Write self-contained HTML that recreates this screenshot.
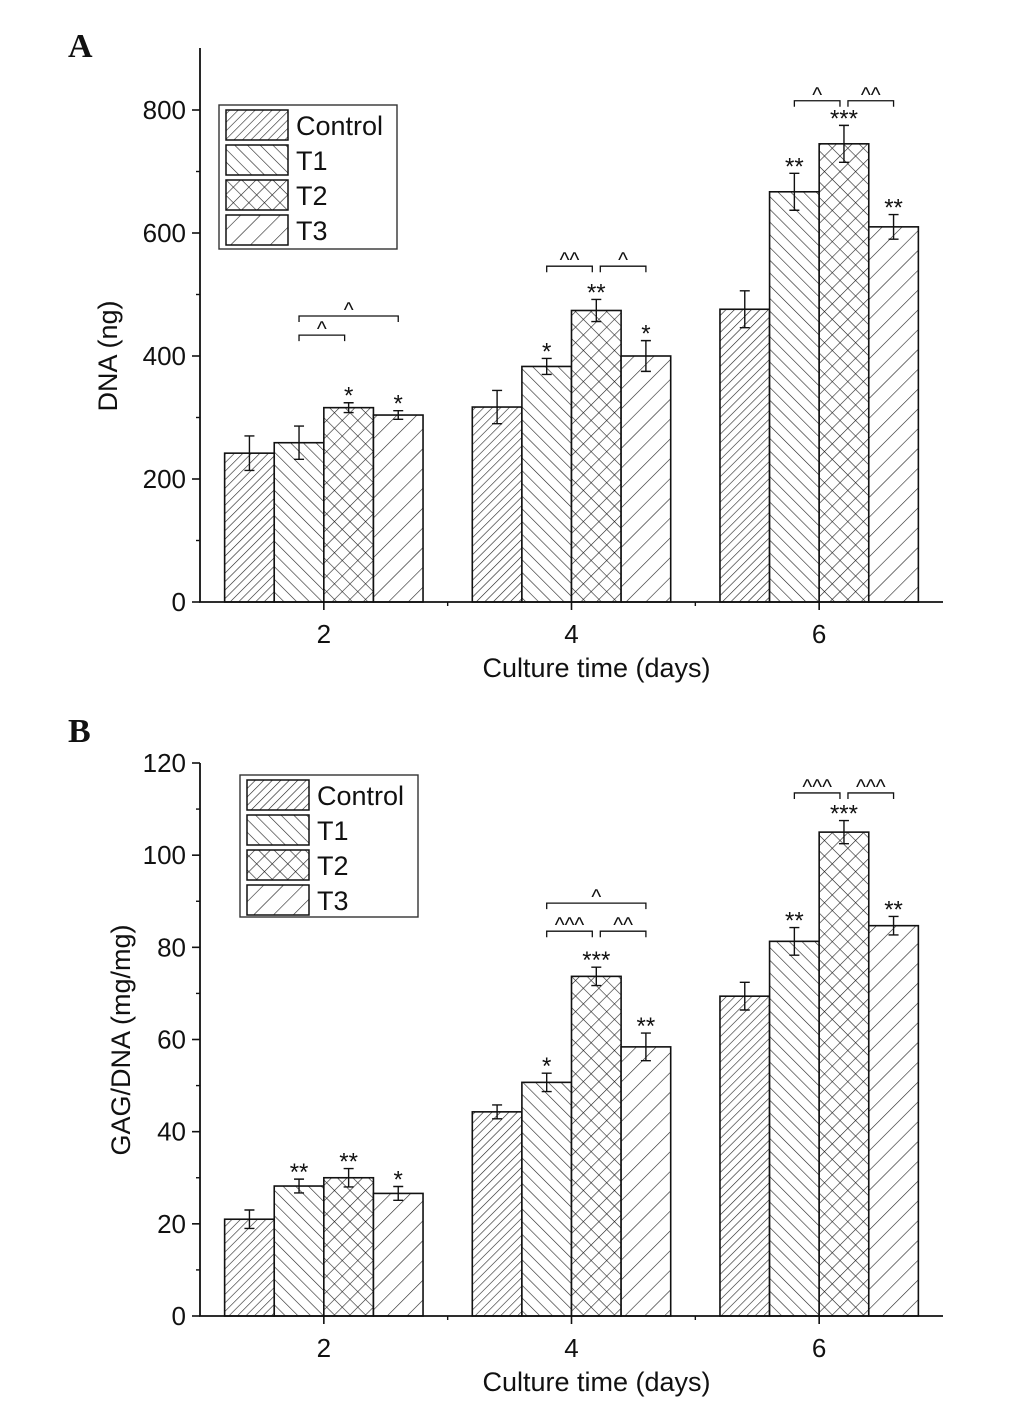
<!DOCTYPE html>
<html><head><meta charset="utf-8"><style>
body{margin:0;background:#fff}
svg text{font-family:"Liberation Sans",Arial,sans-serif;fill:#111}
</style></head><body>
<svg id="fig" width="1033" height="1397" viewBox="0 0 1033 1397" xmlns="http://www.w3.org/2000/svg">
<defs>
<pattern id="pC" patternUnits="userSpaceOnUse" width="6" height="6" patternTransform="rotate(45)"><rect width="6" height="6" fill="#fff"/><line x1="0" y1="0" x2="0" y2="6" stroke="#222" stroke-width="1.2"/></pattern>
<pattern id="p1" patternUnits="userSpaceOnUse" width="9" height="9" patternTransform="rotate(-45)"><rect width="9" height="9" fill="#fff"/><line x1="0" y1="0" x2="0" y2="9" stroke="#222" stroke-width="1.2"/></pattern>
<pattern id="p2" patternUnits="userSpaceOnUse" width="11" height="11" patternTransform="rotate(45)"><rect width="11" height="11" fill="#fff"/><line x1="0" y1="0" x2="0" y2="11" stroke="#222" stroke-width="1.2"/><line x1="0" y1="0" x2="11" y2="0" stroke="#222" stroke-width="1.2"/></pattern>
<pattern id="p3" patternUnits="userSpaceOnUse" width="14" height="14" patternTransform="rotate(45)"><rect width="14" height="14" fill="#fff"/><line x1="0" y1="0" x2="0" y2="14" stroke="#222" stroke-width="1.2"/></pattern>
</defs>
</svg>
<script>
const categories=["2","4","6"];
const seriesNames=["Control","T1","T2","T3"];
const patterns=["url(#pC)","url(#p1)","url(#p2)","url(#p3)"];
const dnaControl=[242,317,476], dnaT1=[259,383,667], dnaT2=[316,474,745], dnaT3=[304,400,610];
const dnaErrControl=[28,27,30], dnaErrT1=[27,13,30], dnaErrT2=[8,18,30], dnaErrT3=[7,25,20];
const dnaStars=[["","",""],["","*","**"],["*","**","***"],["*","*","**"]];
const dnaTicks=[0,200,400,600,800];
const dnaBrackets=[[0,1,2,434,"^"],[0,1,3,465,"^"],[1,1,2,546,"^^"],[1,2,3,546,"^"],[2,1,2,815,"^"],[2,2,3,815,"^^"]];
const gagControl=[21,44.3,69.4], gagT1=[28.2,50.7,81.3], gagT2=[30,73.7,105], gagT3=[26.6,58.4,84.7];
const gagErrControl=[2,1.5,3], gagErrT1=[1.5,2,3], gagErrT2=[2,2,2.5], gagErrT3=[1.5,3,2];
const gagStars=[["","",""],["**","*","**"],["**","***","***"],["*","**","**"]];
const gagTicks=[0,20,40,60,80,100,120];
const gagBrackets=[[1,1,2,83.5,"^^^"],[1,2,3,83.5,"^^"],[1,1,3,89.6,"^"],[2,1,2,113.5,"^^^"],[2,2,3,113.5,"^^^"]];

const svg=document.getElementById('fig');
const NS="http://www.w3.org/2000/svg";
function mk(tag,attrs,parent){const e=document.createElementNS(NS,tag);for(const k in attrs)e.setAttribute(k,attrs[k]);(parent||svg).appendChild(e);return e;}
function txt(s,attrs,parent){const e=mk('text',attrs,parent);e.textContent=s;return e;}

function panel(cfg){
  const g=mk('g',{});
  
  
  const x0=200,x1=943,bw=49.6;
  const xC=i=>x0+(i+0.5)*(x1-x0)/3;
  const y=v=>cfg.y0-(v-cfg.min)*(cfg.y0-cfg.yTop)/(cfg.max-cfg.min);
  const vals=[cfg.c,cfg.t1,cfg.t2,cfg.t3], errs=[cfg.ec,cfg.e1,cfg.e2,cfg.e3];
  for(let s=0;s<4;s++)for(let i=0;i<categories.length;i++){
    const bx=xC(i)+(s-2)*bw;
    const r=mk('rect',{x:bx,y:y(vals[s][i]),width:bw,height:cfg.y0-y(vals[s][i]),fill:patterns[s],stroke:'#111','stroke-width':1.6},g);
    
    
    const cx=bx+bw/2, yt=y(vals[s][i]+errs[s][i]), yb=y(vals[s][i]-errs[s][i]);
    const eb=mk('path',{d:`M${cx},${yt}V${yb}M${cx-5},${yt}H${cx+5}M${cx-5},${yb}H${cx+5}`,stroke:'#111','stroke-width':1.4,fill:'none'},g);
    
    
    if(cfg.stars[s][i]){
      const st=txt(cfg.stars[s][i],{x:cx,y:yt+1,'text-anchor':'middle','font-size':24},g);
      
      
    }
  }
  cfg.brackets.forEach(b=>{
    const xa=xC(b[0])+(b[1]-2)*bw+bw/2+(b[1]==2?4:0), xb=xC(b[0])+(b[2]-2)*bw+bw/2-(b[2]==2?4:0), yy=y(b[3]);
    const p=mk('path',{d:`M${xa},${yy+6}V${yy}H${xb}V${yy+6}`,stroke:'#111','stroke-width':1.3,fill:'none'},g);
    
    
    const t=txt(b[4],{x:(xa+xb)/2,y:yy+1,'text-anchor':'middle','font-size':21},g);
    
    
  });
  const ax=mk('path',{d:`M${x0},${cfg.axTop}V${cfg.y0}H${x1}`,stroke:'#111','stroke-width':1.8,fill:'none'},g);
  
  
  cfg.ticks.forEach((t,k)=>{
    mk('line',{x1:x0-8,x2:x0,y1:y(t),y2:y(t),stroke:'#111','stroke-width':1.6},g);
    if(k<cfg.ticks.length-1){const m=(t+cfg.ticks[k+1])/2;mk('line',{x1:x0-4,x2:x0,y1:y(m),y2:y(m),stroke:'#111','stroke-width':1.4},g);}
    const tl=txt(String(t),{x:x0-14,y:y(t)+9,'text-anchor':'end','font-size':26},g);
    
    
  });
  categories.forEach((c,i)=>{
    mk('line',{x1:xC(i),x2:xC(i),y1:cfg.y0,y2:cfg.y0+8,stroke:'#111','stroke-width':1.6},g);
    const tl=txt(c,{x:xC(i),y:cfg.y0+41,'text-anchor':'middle','font-size':26},g);
    
    
  });
  [1,2].forEach(i=>mk('line',{x1:x0+i*(x1-x0)/3,x2:x0+i*(x1-x0)/3,y1:cfg.y0,y2:cfg.y0+4,stroke:'#111','stroke-width':1.4},g));
  const xt=txt('Culture time (days)',{x:(x0+x1)/2+25,y:cfg.y0+75,'text-anchor':'middle','font-size':27},g);
  
  
  const yt=txt(cfg.ytitle,{x:0,y:0,'text-anchor':'middle','font-size':27,transform:`translate(${cfg.ytx},${cfg.ytY}) rotate(-90)`},g);
  
  
  const pl=txt(cfg.letter,{x:68,y:cfg.letterY,'font-size':34,'font-weight':'bold',style:'font-family:"Liberation Serif",serif'},g);
  
  
  const L=cfg.legend;
  const lg=mk('g',{},g);
  
  
  mk('rect',{x:L[0],y:L[1],width:178,height:L[2],fill:'#fff',stroke:'#333','stroke-width':1.4},lg);
  seriesNames.forEach((n,s)=>{
    const ry=L[1]+5+s*35;
    const e=mk('g',{},lg);
    
    
    mk('rect',{x:L[0]+7,y:ry,width:62,height:30,fill:patterns[s],stroke:'#111','stroke-width':1.5},e);
    txt(n,{x:L[0]+77,y:ry+25,'font-size':27},e);
  });
}
panel({name:'panel-a-dna',letter:'A',letterY:57,y0:602,yTop:110,min:0,max:800,axTop:48,ticks:dnaTicks,
  c:dnaControl,t1:dnaT1,t2:dnaT2,t3:dnaT3,ec:dnaErrControl,e1:dnaErrT1,e2:dnaErrT2,e3:dnaErrT3,stars:dnaStars,brackets:dnaBrackets,
  ytitle:'DNA (ng)',ytx:117,ytY:356,legend:[219,105,144]});
panel({name:'panel-b-gag-dna',letter:'B',letterY:742,y0:1316,yTop:763,min:0,max:120,axTop:763,ticks:gagTicks,
  c:gagControl,t1:gagT1,t2:gagT2,t3:gagT3,ec:gagErrControl,e1:gagErrT1,e2:gagErrT2,e3:gagErrT3,stars:gagStars,brackets:gagBrackets,
  ytitle:'GAG/DNA (mg/mg)',ytx:130,ytY:1040,legend:[240,775,142]});
</script>
</body></html>
